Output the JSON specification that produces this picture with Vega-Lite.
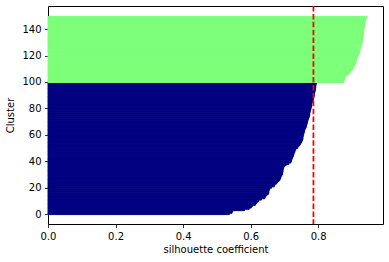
{
  "$schema": "https://vega.github.io/schema/vega-lite/v6.json",
  "width": 335,
  "height": 218,
  "padding": {"left": 5, "top": 5, "right": 6, "bottom": 5},
  "config": {
    "font": "DejaVu Sans",
    "view": {"stroke": "#000000", "strokeWidth": 1},
    "axis": {
      "grid": false, "domain": false, "tickColor": "#000000", "tickSize": 3.5, "tickWidth": 0.8,
      "labelColor": "#000000", "labelFont": "DejaVu Sans", "labelFontSize": 10, "labelPadding": 3.5, "labelFlush": false,
      "titleFont": "DejaVu Sans", "titleFontSize": 10, "titleFontWeight": "normal", "titleColor": "#000000"
    }
  },
  "layer": [
    {
      "data": {"values": [
        {"sample":0,"cluster":"0","silhouette":0.537},{"sample":1,"cluster":"0","silhouette":0.545},{"sample":2,"cluster":"0","silhouette":0.547},{"sample":3,"cluster":"0","silhouette":0.582},{"sample":4,"cluster":"0","silhouette":0.596},
        {"sample":5,"cluster":"0","silhouette":0.602},{"sample":6,"cluster":"0","silhouette":0.605},{"sample":7,"cluster":"0","silhouette":0.614},{"sample":8,"cluster":"0","silhouette":0.617},{"sample":9,"cluster":"0","silhouette":0.620},
        {"sample":10,"cluster":"0","silhouette":0.624},{"sample":11,"cluster":"0","silhouette":0.632},{"sample":12,"cluster":"0","silhouette":0.642},{"sample":13,"cluster":"0","silhouette":0.644},{"sample":14,"cluster":"0","silhouette":0.647},
        {"sample":15,"cluster":"0","silhouette":0.652},{"sample":16,"cluster":"0","silhouette":0.654},{"sample":17,"cluster":"0","silhouette":0.654},{"sample":18,"cluster":"0","silhouette":0.655},{"sample":19,"cluster":"0","silhouette":0.657},
        {"sample":20,"cluster":"0","silhouette":0.662},{"sample":21,"cluster":"0","silhouette":0.670},{"sample":22,"cluster":"0","silhouette":0.672},{"sample":23,"cluster":"0","silhouette":0.676},{"sample":24,"cluster":"0","silhouette":0.680},
        {"sample":25,"cluster":"0","silhouette":0.684},{"sample":26,"cluster":"0","silhouette":0.687},{"sample":27,"cluster":"0","silhouette":0.689},{"sample":28,"cluster":"0","silhouette":0.690},{"sample":29,"cluster":"0","silhouette":0.692},
        {"sample":30,"cluster":"0","silhouette":0.694},{"sample":31,"cluster":"0","silhouette":0.695},{"sample":32,"cluster":"0","silhouette":0.696},{"sample":33,"cluster":"0","silhouette":0.696},{"sample":34,"cluster":"0","silhouette":0.697},
        {"sample":35,"cluster":"0","silhouette":0.698},{"sample":36,"cluster":"0","silhouette":0.700},{"sample":37,"cluster":"0","silhouette":0.705},{"sample":38,"cluster":"0","silhouette":0.713},{"sample":39,"cluster":"0","silhouette":0.719},
        {"sample":40,"cluster":"0","silhouette":0.721},{"sample":41,"cluster":"0","silhouette":0.722},{"sample":42,"cluster":"0","silhouette":0.723},{"sample":43,"cluster":"0","silhouette":0.725},{"sample":44,"cluster":"0","silhouette":0.727},
        {"sample":45,"cluster":"0","silhouette":0.728},{"sample":46,"cluster":"0","silhouette":0.729},{"sample":47,"cluster":"0","silhouette":0.731},{"sample":48,"cluster":"0","silhouette":0.732},{"sample":49,"cluster":"0","silhouette":0.734},
        {"sample":50,"cluster":"0","silhouette":0.739},{"sample":51,"cluster":"0","silhouette":0.741},{"sample":52,"cluster":"0","silhouette":0.745},{"sample":53,"cluster":"0","silhouette":0.748},{"sample":54,"cluster":"0","silhouette":0.750},
        {"sample":55,"cluster":"0","silhouette":0.752},{"sample":56,"cluster":"0","silhouette":0.754},{"sample":57,"cluster":"0","silhouette":0.755},{"sample":58,"cluster":"0","silhouette":0.755},{"sample":59,"cluster":"0","silhouette":0.756},
        {"sample":60,"cluster":"0","silhouette":0.757},{"sample":61,"cluster":"0","silhouette":0.758},{"sample":62,"cluster":"0","silhouette":0.759},{"sample":63,"cluster":"0","silhouette":0.760},{"sample":64,"cluster":"0","silhouette":0.761},
        {"sample":65,"cluster":"0","silhouette":0.763},{"sample":66,"cluster":"0","silhouette":0.765},{"sample":67,"cluster":"0","silhouette":0.766},{"sample":68,"cluster":"0","silhouette":0.767},{"sample":69,"cluster":"0","silhouette":0.768},
        {"sample":70,"cluster":"0","silhouette":0.769},{"sample":71,"cluster":"0","silhouette":0.770},{"sample":72,"cluster":"0","silhouette":0.771},{"sample":73,"cluster":"0","silhouette":0.773},{"sample":74,"cluster":"0","silhouette":0.774},
        {"sample":75,"cluster":"0","silhouette":0.775},{"sample":76,"cluster":"0","silhouette":0.775},{"sample":77,"cluster":"0","silhouette":0.776},{"sample":78,"cluster":"0","silhouette":0.777},{"sample":79,"cluster":"0","silhouette":0.778},
        {"sample":80,"cluster":"0","silhouette":0.779},{"sample":81,"cluster":"0","silhouette":0.780},{"sample":82,"cluster":"0","silhouette":0.781},{"sample":83,"cluster":"0","silhouette":0.781},{"sample":84,"cluster":"0","silhouette":0.782},
        {"sample":85,"cluster":"0","silhouette":0.784},{"sample":86,"cluster":"0","silhouette":0.785},{"sample":87,"cluster":"0","silhouette":0.786},{"sample":88,"cluster":"0","silhouette":0.787},{"sample":89,"cluster":"0","silhouette":0.788},
        {"sample":90,"cluster":"0","silhouette":0.789},{"sample":91,"cluster":"0","silhouette":0.789},{"sample":92,"cluster":"0","silhouette":0.790},{"sample":93,"cluster":"0","silhouette":0.791},{"sample":94,"cluster":"0","silhouette":0.792},
        {"sample":95,"cluster":"0","silhouette":0.792},{"sample":96,"cluster":"0","silhouette":0.793},{"sample":97,"cluster":"0","silhouette":0.793},{"sample":98,"cluster":"0","silhouette":0.794},{"sample":99,"cluster":"0","silhouette":0.795},
        {"sample":100,"cluster":"1","silhouette":0.875},{"sample":101,"cluster":"1","silhouette":0.877},{"sample":102,"cluster":"1","silhouette":0.878},{"sample":103,"cluster":"1","silhouette":0.879},{"sample":104,"cluster":"1","silhouette":0.881},
        {"sample":105,"cluster":"1","silhouette":0.885},{"sample":106,"cluster":"1","silhouette":0.891},{"sample":107,"cluster":"1","silhouette":0.893},{"sample":108,"cluster":"1","silhouette":0.897},{"sample":109,"cluster":"1","silhouette":0.901},
        {"sample":110,"cluster":"1","silhouette":0.903},{"sample":111,"cluster":"1","silhouette":0.905},{"sample":112,"cluster":"1","silhouette":0.907},{"sample":113,"cluster":"1","silhouette":0.909},{"sample":114,"cluster":"1","silhouette":0.911},
        {"sample":115,"cluster":"1","silhouette":0.912},{"sample":116,"cluster":"1","silhouette":0.913},{"sample":117,"cluster":"1","silhouette":0.915},{"sample":118,"cluster":"1","silhouette":0.916},{"sample":119,"cluster":"1","silhouette":0.917},
        {"sample":120,"cluster":"1","silhouette":0.919},{"sample":121,"cluster":"1","silhouette":0.921},{"sample":122,"cluster":"1","silhouette":0.922},{"sample":123,"cluster":"1","silhouette":0.923},{"sample":124,"cluster":"1","silhouette":0.924},
        {"sample":125,"cluster":"1","silhouette":0.925},{"sample":126,"cluster":"1","silhouette":0.927},{"sample":127,"cluster":"1","silhouette":0.928},{"sample":128,"cluster":"1","silhouette":0.929},{"sample":129,"cluster":"1","silhouette":0.930},
        {"sample":130,"cluster":"1","silhouette":0.931},{"sample":131,"cluster":"1","silhouette":0.932},{"sample":132,"cluster":"1","silhouette":0.932},{"sample":133,"cluster":"1","silhouette":0.933},{"sample":134,"cluster":"1","silhouette":0.933},
        {"sample":135,"cluster":"1","silhouette":0.933},{"sample":136,"cluster":"1","silhouette":0.934},{"sample":137,"cluster":"1","silhouette":0.934},{"sample":138,"cluster":"1","silhouette":0.935},{"sample":139,"cluster":"1","silhouette":0.935},
        {"sample":140,"cluster":"1","silhouette":0.936},{"sample":141,"cluster":"1","silhouette":0.937},{"sample":142,"cluster":"1","silhouette":0.937},{"sample":143,"cluster":"1","silhouette":0.938},{"sample":144,"cluster":"1","silhouette":0.938},
        {"sample":145,"cluster":"1","silhouette":0.939},{"sample":146,"cluster":"1","silhouette":0.940},{"sample":147,"cluster":"1","silhouette":0.941},{"sample":148,"cluster":"1","silhouette":0.943},{"sample":149,"cluster":"1","silhouette":0.945}
      ]},
      "mark": {"type": "bar", "binSpacing": 0, "strokeWidth": 1, "orient": "horizontal"},
      "encoding": {
        "y": {
          "field": "sample", "type": "quantitative",
          "bin": {"step": 1, "extent": [0, 150]},
          "scale": {"domain": [-7.5, 157.5], "nice": false, "zero": false},
          "axis": {"title": "Cluster", "values": [0, 20, 40, 60, 80, 100, 120, 140], "format": "d", "titlePadding": 6}
        },
        "x": {
          "field": "silhouette", "type": "quantitative",
          "scale": {"domain": [0, 0.992], "nice": false},
          "axis": {"title": "silhouette coefficient", "values": [0, 0.2, 0.4, 0.6, 0.8], "format": ".1f", "titlePadding": 3}
        },
        "color": {
          "field": "cluster", "type": "nominal",
          "scale": {"domain": ["0", "1"], "range": ["#000080", "#7dff7a"]},
          "legend": null
        },
        "stroke": {
          "field": "cluster", "type": "nominal",
          "scale": {"domain": ["0", "1"], "range": ["#000080", "#7dff7a"]},
          "legend": null
        }
      }
    },
    {
      "data": {"values": [{"average": 0.786}]},
      "mark": {"type": "rule", "stroke": "#ff0000", "strokeWidth": 1.8, "strokeDash": [5.5, 2.4]},
      "encoding": {"x": {"field": "average", "type": "quantitative"}}
    }
  ]
}
